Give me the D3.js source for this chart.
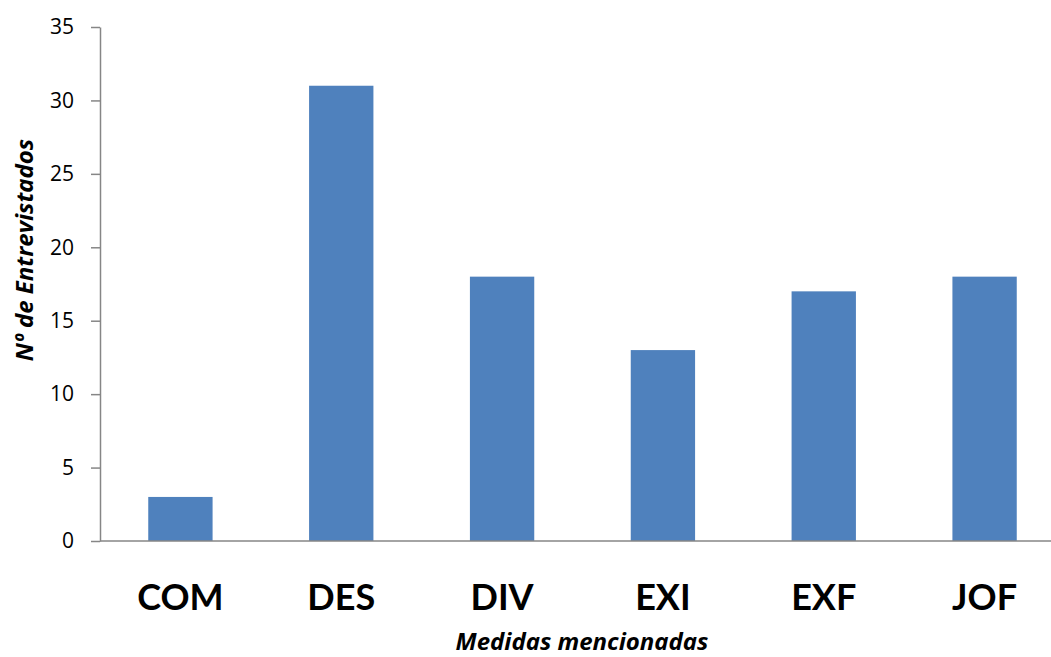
<!DOCTYPE html>
<html>
<head>
<meta charset="utf-8">
<script src="https://cdn.jsdelivr.net/npm/d3@7"></script>
<style>
  html, body { margin: 0; padding: 0; background: #fff; }
  svg { display: block; font-family: "Open Sans", Lato, sans-serif; }
</style>
</head>
<body>
<svg id="chart" width="1051" height="657"></svg>
<script>
// Medidas mencionadas por los entrevistados
const categories = ["COM", "DES", "DIV", "EXI", "EXF", "JOF"];
const values = [3, 31, 18, 13, 17, 18];
const yTicks = [0, 5, 10, 15, 20, 25, 30, 35];

(function () {
  const svg = d3.select("#chart");
  const W = 1051;
  const plotLeft = 100, plotTop = 27, plotBottom = 541, plotRight = 1065;

  const x = d3.scaleBand()
    .domain(categories)
    .range([plotLeft, plotRight])
    .paddingInner(0.6)
    .paddingOuter(0.3);

  const y = d3.scaleLinear().domain([0, 35]).range([plotBottom, plotTop]);

  // bars
  svg.append("g").selectAll("rect")
    .data(categories)
    .join("rect")
    .attr("x", (d) => x(d))
    .attr("width", x.bandwidth())
    .attr("y", (d, i) => y(values[i]))
    .attr("height", (d, i) => y(0) - y(values[i]))
    .attr("fill", "#4F81BD");

  // y axis
  const yAxis = svg.append("g")
    .attr("transform", `translate(${plotLeft},0)`)
    .call(d3.axisLeft(y).tickValues(yTicks).tickSize(9).tickPadding(17).tickSizeOuter(0));
  yAxis.select(".domain").attr("stroke", "#868686").attr("stroke-width", 1.5);
  yAxis.selectAll(".tick line").attr("stroke", "#868686").attr("stroke-width", 1.5);
  yAxis.selectAll(".tick text")
    .attr("fill", "#000")
    .style("font-size", "21px")
    .style("font-family", "'Open Sans', sans-serif");

  // x axis baseline
  svg.append("line")
    .attr("x1", plotLeft).attr("x2", W)
    .attr("y1", y(0)).attr("y2", y(0))
    .attr("stroke", "#868686").attr("stroke-width", 1.5);

  // category labels
  svg.append("g").selectAll("text")
    .data(categories)
    .join("text")
    .attr("x", (d) => x(d) + x.bandwidth() / 2)
    .attr("y", 610)
    .attr("text-anchor", "middle")
    .style("font-family", "Lato, sans-serif")
    .style("font-size", "36px")
    .style("font-weight", "bold")
    .text((d) => d);

  // axis titles
  svg.append("text")
    .attr("x", 582).attr("y", 650)
    .attr("text-anchor", "middle")
    .style("font-size", "24px")
    .style("font-weight", "bold")
    .style("font-style", "italic")
    .text("Medidas mencionadas");

  svg.append("text")
    .attr("transform", "translate(33,250) rotate(-90)")
    .attr("text-anchor", "middle")
    .style("font-size", "24px")
    .style("font-weight", "bold")
    .style("font-style", "italic")
    .text("Nº de Entrevistados");
})();
</script>
</body>
</html>
